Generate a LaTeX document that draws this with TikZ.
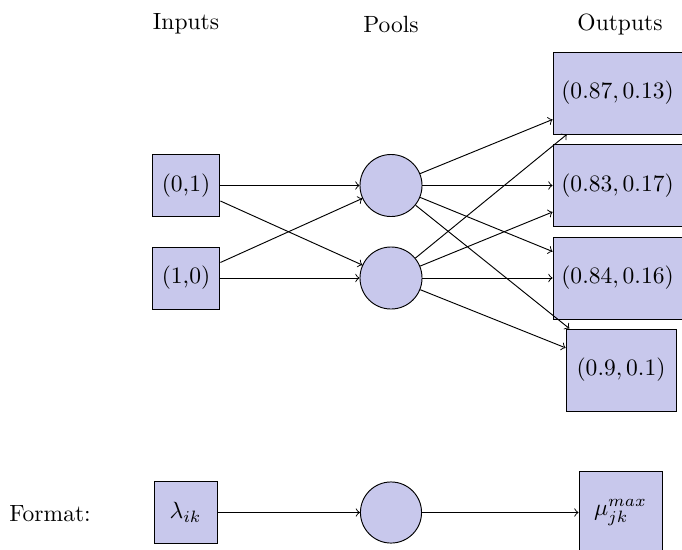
\documentclass[tikz,border=0pt]{standalone}
\begin{document}
\begin{tikzpicture}[x=0.4255pt,y=-0.4255pt,
  boxfill/.style={draw, fill=nodefill, inner sep=0pt},
  inbox/.style={boxfill, minimum width=28.9pt, minimum height=26.4pt},
  outbox/.style={boxfill, minimum width=54.9pt, minimum height=34.9pt},
  pool/.style={draw, fill=nodefill, circle, minimum size=26.4pt, inner sep=0pt},
  conn/.style={->}]
\definecolor{nodefill}{RGB}{200,200,236}
\useasboundingbox (0,0) rectangle (682,549);
% titles
\node (tin) at (186,24) {Inputs};
\node (tpool) at (391,24) {Pools};
\node (tout) at (620,24) {Outputs};
% inputs
\node[inbox] (i1) at (186,185.5) {(0,1)};
\node[inbox] (i2) at (186,278) {(1,0)};
% pools
\node[pool] (p1) at (391,185.5) {};
\node[pool] (p2) at (391,278) {};
% outputs
\node[outbox] (o1) at (617.5,93) {$(0.87,0.13)$};
\node[outbox] (o2) at (617.5,185.5) {$(0.83,0.17)$};
\node[outbox] (o3) at (617.5,278) {$(0.84,0.16)$};
\node[outbox, minimum width=46.8pt] (o4) at (621,370) {$(0.9,0.1)$};
% connectors
\draw[conn] (i1) -- (p1);
\draw[conn] (i1) -- (p2);
\draw[conn] (i2) -- (p1);
\draw[conn] (i2) -- (p2);
\foreach \p in {p1,p2}{
  \foreach \o in {o1,o2,o3,o4}{
    \draw[conn] (\p) -- (\o);
  }
}
% format row
\node (fmt) at (50,514) {Format:};
\node[boxfill, minimum width=26.8pt, minimum height=26pt] (fl) at (185.5,512.5) {$\lambda_{ik}$};
\node[pool, minimum size=26pt] (fp) at (391,512.5) {};
\node[boxfill, minimum width=35.3pt, minimum height=34.9pt] (fm) at (620.5,512.5) {$\mu_{jk}^{max}$};
\draw[conn] (fl) -- (fp);
\draw[conn] (fp) -- (fm);
\end{tikzpicture}
\end{document}
